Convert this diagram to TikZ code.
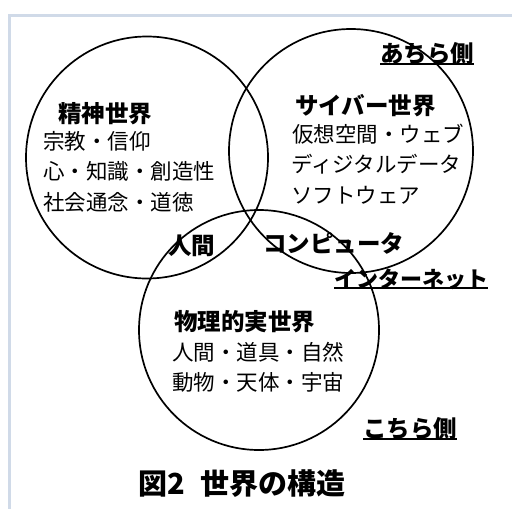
\documentclass[tikz,border=0pt]{standalone}
\usepackage{fontspec}
\setmainfont{Noto Sans CJK JP}
\definecolor{framecol}{RGB}{208,218,232}
\begin{document}
\begin{tikzpicture}[x=1pt,y=-1pt,
  world/.style={circle,draw=black,line width=1.7pt,minimum size=242pt,inner sep=0pt},
  head/.style={anchor=west,inner sep=0pt,font=\fontsize{23.5}{23.5}\selectfont\bfseries},
  body/.style={anchor=west,inner sep=0pt,font=\fontsize{21.5}{21.5}\selectfont},
  uline/.style={line width=1.6pt},
  frame/.style={draw=framecol,line width=2.5pt}]
\useasboundingbox (0,0) rectangle (512,509);
\fill[white] (0,0) rectangle (512,509);
\coordinate (fl) at (9.5,509);
\coordinate (fc) at (9.5,15.5);
\coordinate (fr) at (512,15.5);
\draw[frame] (fl) -- (fc) -- (fr);
% circles
\node[world] (spirit) at (147,157.5) {};
\node[world,minimum size=244pt] (cyber) at (351,151) {};
\node[world,minimum size=240pt] (phys) at (259,330) {};
% spirit world
\node[head] (sh) at (58,114) {精神世界};
\node[body] (s1) at (43,141) {宗教・信仰};
\node[body] (s2) at (43,171) {心・知識・創造性};
\node[body] (s3) at (43,202) {社会通念・道徳};
% cyber world
\node[head] (ch) at (295,106) {サイバー世界};
\node[body] (c1) at (292,134) {仮想空間・ウェブ};
\node[body] (c2) at (291,164) {ディジタルデータ};
\node[body] (c3) at (291,195) {ソフトウェア};
% physical world
\node[head] (ph) at (174,322) {物理的実世界};
\node[body] (p1) at (172,352) {人間・道具・自然};
\node[body] (p2) at (172,382) {動物・天体・宇宙};
% intersections
\node[head] (human) at (168,246) {人間};
\node[head] (comp) at (263,243) {コンピュータ};
% sides
\node[head] (there) at (380,54) {あちら側};
\node[head,font=\fontsize{22}{22}\selectfont\bfseries] (net) at (334,279) {インターネット};
\node[head] (here) at (363,429) {こちら側};
\draw[uline] ([yshift=1.5pt]there.south west) -- ([yshift=1.5pt]there.south east);
\draw[uline] ([yshift=1.5pt]net.south west) -- ([yshift=1.5pt]net.south east);
\draw[uline] ([yshift=1.5pt]here.south west) -- ([yshift=1.5pt]here.south east);
% title
\node[anchor=west,inner sep=0pt,font=\fontsize{29}{29}\selectfont\bfseries] (title) at (138,484) {図2\hspace{0.55em}世界の構造};
\end{tikzpicture}
\end{document}
